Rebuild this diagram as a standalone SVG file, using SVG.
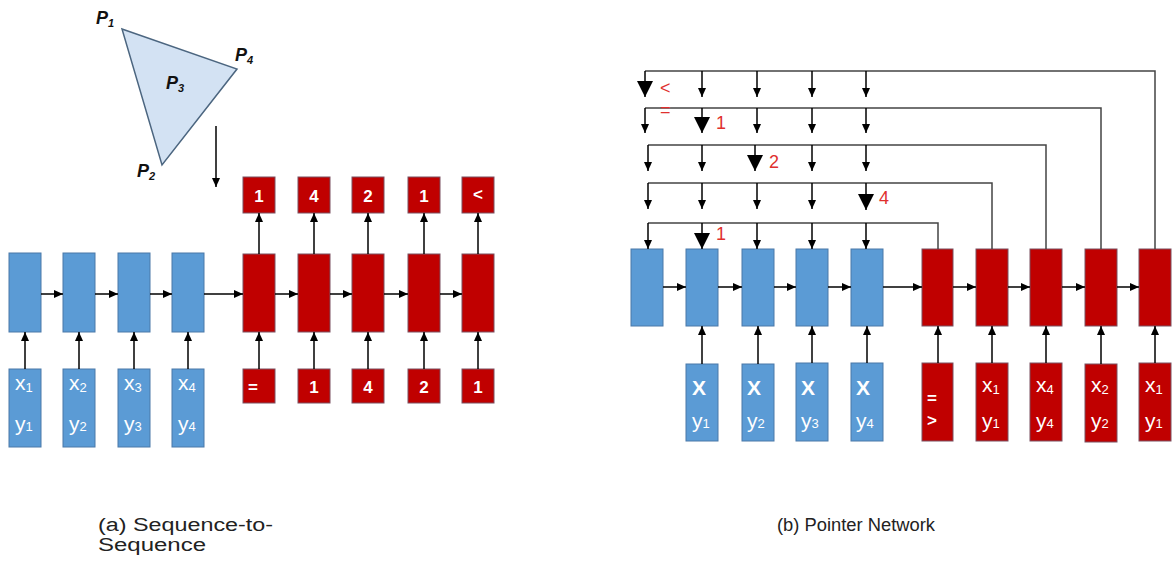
<svg xmlns="http://www.w3.org/2000/svg" width="1173" height="567" viewBox="0 0 1173 567">
<style>
.bl{fill:#5b9bd5;stroke:#4a78a8;stroke-width:1}
.rd{fill:#c00000;stroke:#7a5060;stroke-width:1}
.ln{stroke:#000;stroke-width:1.5;fill:none}
.lg{stroke:#444;stroke-width:1.5;fill:none}
.wt{font-family:"Liberation Sans",Arial,sans-serif;fill:#fff;font-size:21px}
.wb{font-family:"Liberation Sans",Arial,sans-serif;fill:#fff;font-size:17px;font-weight:bold}
.rl{font-family:"Liberation Sans",Arial,sans-serif;fill:#e0302e;font-size:18px}
.pl{font-family:"Liberation Sans",Arial,sans-serif;fill:#111;font-size:18px;font-weight:bold;font-style:italic}
.cap{font-family:"Liberation Sans",Arial,sans-serif;fill:#222;font-size:18px}
</style>
<defs>
<marker id="ah" markerUnits="userSpaceOnUse" viewBox="0 0 9 8" markerWidth="9" markerHeight="8" refX="9" refY="4" orient="auto">
<path d="M0,0 L9,4 L0,8 z" fill="#000"/>
</marker>
<marker id="big" markerUnits="userSpaceOnUse" viewBox="0 0 16 16" markerWidth="16" markerHeight="16" refX="16" refY="8" orient="auto">
<path d="M0,0 L16,8 L0,16 z" fill="#000"/>
</marker>
</defs>

<!-- Triangle -->
<g id="triangle">
<polygon points="122,29 237,69 162,165" fill="#d3e2f3" stroke="#4c6680" stroke-width="1.5"/>
<text class="pl" x="96" y="24">P<tspan font-size="11" dy="3">1</tspan></text>
<text class="pl" x="235" y="61">P<tspan font-size="11" dy="3">4</tspan></text>
<text class="pl" x="166" y="89">P<tspan font-size="11" dy="3">3</tspan></text>
<text class="pl" x="137" y="177">P<tspan font-size="11" dy="3">2</tspan></text>
</g>

<!-- Seq2Seq nodes -->
<g id="a-enc1"><rect class="bl" x="9" y="253" width="32" height="79"/></g>
<g id="a-enc2"><rect class="bl" x="63" y="253" width="32" height="79"/></g>
<g id="a-enc3"><rect class="bl" x="118" y="253" width="32" height="79"/></g>
<g id="a-enc4"><rect class="bl" x="172" y="253" width="32" height="79"/></g>
<g id="a-in1"><rect class="bl" x="9" y="369" width="32" height="78"/><text class="wt" x="15" y="390">x<tspan font-size="13" dy="2">1</tspan></text><text class="wt" x="15" y="431">y<tspan font-size="13" dy="0">1</tspan></text></g>
<g id="a-in2"><rect class="bl" x="63" y="369" width="32" height="78"/><text class="wt" x="69" y="390">x<tspan font-size="13" dy="2">2</tspan></text><text class="wt" x="69" y="431">y<tspan font-size="13" dy="0">2</tspan></text></g>
<g id="a-in3"><rect class="bl" x="118" y="369" width="32" height="78"/><text class="wt" x="124" y="390">x<tspan font-size="13" dy="2">3</tspan></text><text class="wt" x="124" y="431">y<tspan font-size="13" dy="0">3</tspan></text></g>
<g id="a-in4"><rect class="bl" x="172" y="369" width="32" height="78"/><text class="wt" x="178" y="390">x<tspan font-size="13" dy="2">4</tspan></text><text class="wt" x="178" y="431">y<tspan font-size="13" dy="0">4</tspan></text></g>

<g id="a-dec1"><rect class="rd" x="243" y="254" width="32" height="78"/></g>
<g id="a-dec2"><rect class="rd" x="298" y="254" width="32" height="78"/></g>
<g id="a-dec3"><rect class="rd" x="352" y="254" width="32" height="78"/></g>
<g id="a-dec4"><rect class="rd" x="408" y="254" width="32" height="78"/></g>
<g id="a-dec5"><rect class="rd" x="462" y="254" width="32" height="78"/></g>

<g id="a-out1"><rect class="rd" x="243" y="177" width="32" height="36"/><text class="wb" x="259" y="202" text-anchor="middle">1</text></g>
<g id="a-out2"><rect class="rd" x="298" y="177" width="32" height="36"/><text class="wb" x="314" y="202" text-anchor="middle">4</text></g>
<g id="a-out3"><rect class="rd" x="352" y="177" width="32" height="36"/><text class="wb" x="368" y="202" text-anchor="middle">2</text></g>
<g id="a-out4"><rect class="rd" x="408" y="177" width="32" height="36"/><text class="wb" x="424" y="202" text-anchor="middle">1</text></g>
<g id="a-out5"><rect class="rd" x="462" y="177" width="32" height="36"/><text class="wb" x="473" y="200">&lt;</text></g>

<g id="a-din1"><rect class="rd" x="243" y="369" width="32" height="34"/><text class="wb" x="248" y="393">=</text></g>
<g id="a-din2"><rect class="rd" x="298" y="369" width="32" height="34"/><text class="wb" x="314" y="393" text-anchor="middle">1</text></g>
<g id="a-din3"><rect class="rd" x="352" y="369" width="32" height="34"/><text class="wb" x="368" y="393" text-anchor="middle">4</text></g>
<g id="a-din4"><rect class="rd" x="408" y="369" width="32" height="34"/><text class="wb" x="424" y="393" text-anchor="middle">2</text></g>
<g id="a-din5"><rect class="rd" x="462" y="369" width="32" height="34"/><text class="wb" x="478" y="393" text-anchor="middle">1</text></g>

<!-- Pointer network nodes -->
<g id="b-enc0"><rect class="bl" x="631" y="249" width="32" height="77"/></g>
<g id="b-enc1"><rect class="bl" x="686" y="249" width="32" height="77"/></g>
<g id="b-enc2"><rect class="bl" x="742" y="249" width="32" height="77"/></g>
<g id="b-enc3"><rect class="bl" x="796" y="249" width="32" height="77"/></g>
<g id="b-enc4"><rect class="bl" x="851" y="249" width="32" height="77"/></g>
<g id="b-in1"><rect class="bl" x="686" y="364" width="32" height="77"/><text class="wt" x="692" y="395" font-size="17" font-weight="bold">X</text><text class="wt" x="692" y="428">y<tspan font-size="13" dy="0">1</tspan></text></g>
<g id="b-in2"><rect class="bl" x="742" y="364" width="32" height="77"/><text class="wt" x="747" y="395" font-size="17" font-weight="bold">X</text><text class="wt" x="747" y="428">y<tspan font-size="13" dy="0">2</tspan></text></g>
<g id="b-in3"><rect class="bl" x="796" y="363" width="32" height="78"/><text class="wt" x="801" y="395" font-size="17" font-weight="bold">X</text><text class="wt" x="801" y="428">y<tspan font-size="13" dy="0">3</tspan></text></g>
<g id="b-in4"><rect class="bl" x="851" y="363" width="32" height="78"/><text class="wt" x="856" y="395" font-size="17" font-weight="bold">X</text><text class="wt" x="856" y="428">y<tspan font-size="13" dy="0">4</tspan></text></g>

<g id="b-dec0"><rect class="rd" x="922" y="249" width="31" height="77"/></g>
<g id="b-dec1"><rect class="rd" x="976" y="249" width="32" height="77"/></g>
<g id="b-dec2"><rect class="rd" x="1030" y="249" width="32" height="77"/></g>
<g id="b-dec3"><rect class="rd" x="1085" y="249" width="32" height="77"/></g>
<g id="b-dec4"><rect class="rd" x="1139" y="249" width="32" height="77"/></g>
<g id="b-din0"><rect class="rd" x="922" y="363" width="31" height="78"/><text class="wb" x="927" y="404">=</text><text class="wb" x="927" y="426">&gt;</text></g>
<g id="b-din1"><rect class="rd" x="976" y="363" width="32" height="78"/><text class="wt" x="982" y="392">x<tspan font-size="13" dy="2">1</tspan></text><text class="wt" x="982" y="428">y<tspan font-size="13" dy="0">1</tspan></text></g>
<g id="b-din2"><rect class="rd" x="1030" y="363" width="32" height="78"/><text class="wt" x="1036" y="392">x<tspan font-size="13" dy="2">4</tspan></text><text class="wt" x="1036" y="428">y<tspan font-size="13" dy="0">4</tspan></text></g>
<g id="b-din3"><rect class="rd" x="1085" y="364" width="32" height="78"/><text class="wt" x="1091" y="392">x<tspan font-size="13" dy="2">2</tspan></text><text class="wt" x="1091" y="428">y<tspan font-size="13" dy="0">2</tspan></text></g>
<g id="b-din4"><rect class="rd" x="1139" y="363" width="32" height="78"/><text class="wt" x="1145" y="392">x<tspan font-size="13" dy="2">1</tspan></text><text class="wt" x="1145" y="428">y<tspan font-size="13" dy="0">1</tspan></text></g>

<!-- Connectors -->
<g id="connectors">
<line class="ln" x1="216" y1="126" x2="216" y2="187" marker-end="url(#ah)"/>
<line class="ln" x1="41" y1="294" x2="63" y2="294" marker-end="url(#ah)"/>
<line class="ln" x1="95" y1="294" x2="118" y2="294" marker-end="url(#ah)"/>
<line class="ln" x1="150" y1="294" x2="172" y2="294" marker-end="url(#ah)"/>
<line class="ln" x1="204" y1="294" x2="243" y2="294" marker-end="url(#ah)"/>
<line class="ln" x1="275" y1="294" x2="298" y2="294" marker-end="url(#ah)"/>
<line class="ln" x1="330" y1="294" x2="352" y2="294" marker-end="url(#ah)"/>
<line class="ln" x1="384" y1="294" x2="408" y2="294" marker-end="url(#ah)"/>
<line class="ln" x1="440" y1="294" x2="462" y2="294" marker-end="url(#ah)"/>
<line class="ln" x1="25" y1="369" x2="25" y2="332" marker-end="url(#ah)"/>
<line class="ln" x1="79" y1="369" x2="79" y2="332" marker-end="url(#ah)"/>
<line class="ln" x1="134" y1="369" x2="134" y2="332" marker-end="url(#ah)"/>
<line class="ln" x1="188" y1="369" x2="188" y2="332" marker-end="url(#ah)"/>
<line class="ln" x1="259" y1="369" x2="259" y2="332" marker-end="url(#ah)"/>
<line class="ln" x1="314" y1="369" x2="314" y2="332" marker-end="url(#ah)"/>
<line class="ln" x1="368" y1="369" x2="368" y2="332" marker-end="url(#ah)"/>
<line class="ln" x1="424" y1="369" x2="424" y2="332" marker-end="url(#ah)"/>
<line class="ln" x1="478" y1="369" x2="478" y2="332" marker-end="url(#ah)"/>
<line class="ln" x1="259" y1="254" x2="259" y2="213" marker-end="url(#ah)"/>
<line class="ln" x1="314" y1="254" x2="314" y2="213" marker-end="url(#ah)"/>
<line class="ln" x1="368" y1="254" x2="368" y2="213" marker-end="url(#ah)"/>
<line class="ln" x1="424" y1="254" x2="424" y2="213" marker-end="url(#ah)"/>
<line class="ln" x1="478" y1="254" x2="478" y2="213" marker-end="url(#ah)"/>

<line class="ln" x1="663" y1="287" x2="686" y2="287" marker-end="url(#ah)"/>
<line class="ln" x1="718" y1="287" x2="742" y2="287" marker-end="url(#ah)"/>
<line class="ln" x1="774" y1="287" x2="796" y2="287" marker-end="url(#ah)"/>
<line class="ln" x1="828" y1="287" x2="851" y2="287" marker-end="url(#ah)"/>
<line class="ln" x1="883" y1="287" x2="922" y2="287" marker-end="url(#ah)"/>
<line class="ln" x1="953" y1="287" x2="976" y2="287" marker-end="url(#ah)"/>
<line class="ln" x1="1008" y1="287" x2="1030" y2="287" marker-end="url(#ah)"/>
<line class="ln" x1="1062" y1="287" x2="1085" y2="287" marker-end="url(#ah)"/>
<line class="ln" x1="1117" y1="287" x2="1139" y2="287" marker-end="url(#ah)"/>
<line class="ln" x1="702" y1="364" x2="702" y2="326" marker-end="url(#ah)"/>
<line class="ln" x1="758" y1="364" x2="758" y2="326" marker-end="url(#ah)"/>
<line class="ln" x1="812" y1="363" x2="812" y2="326" marker-end="url(#ah)"/>
<line class="ln" x1="867" y1="363" x2="867" y2="326" marker-end="url(#ah)"/>
<line class="ln" x1="938" y1="363" x2="938" y2="326" marker-end="url(#ah)"/>
<line class="ln" x1="992" y1="363" x2="992" y2="326" marker-end="url(#ah)"/>
<line class="ln" x1="1046" y1="363" x2="1046" y2="326" marker-end="url(#ah)"/>
<line class="ln" x1="1101" y1="364" x2="1101" y2="326" marker-end="url(#ah)"/>
<line class="ln" x1="1155" y1="363" x2="1155" y2="326" marker-end="url(#ah)"/>

<path class="lg" d="M938,249 V223 H648"/>
<path class="lg" d="M992,249 V183 H648"/>
<path class="lg" d="M1046,249 V145 H648"/>
<path class="lg" d="M1101,249 V108 H645"/>
<path class="lg" d="M1155,249 V71 H645"/>

<line class="ln" x1="645" y1="71" x2="645" y2="97" marker-end="url(#big)"/>
<line class="ln" x1="702" y1="71" x2="702" y2="97" marker-end="url(#ah)"/>
<line class="ln" x1="757" y1="71" x2="757" y2="97" marker-end="url(#ah)"/>
<line class="ln" x1="812" y1="71" x2="812" y2="97" marker-end="url(#ah)"/>
<line class="ln" x1="866" y1="71" x2="866" y2="97" marker-end="url(#ah)"/>
<line class="ln" x1="645" y1="108" x2="645" y2="133" marker-end="url(#ah)"/>
<line class="ln" x1="702" y1="108" x2="702" y2="133" marker-end="url(#big)"/>
<line class="ln" x1="757" y1="108" x2="757" y2="133" marker-end="url(#ah)"/>
<line class="ln" x1="812" y1="108" x2="812" y2="133" marker-end="url(#ah)"/>
<line class="ln" x1="866" y1="108" x2="866" y2="133" marker-end="url(#ah)"/>
<line class="ln" x1="648" y1="145" x2="648" y2="171" marker-end="url(#ah)"/>
<line class="ln" x1="702" y1="145" x2="702" y2="171" marker-end="url(#ah)"/>
<line class="ln" x1="755" y1="145" x2="755" y2="171" marker-end="url(#big)"/>
<line class="ln" x1="812" y1="145" x2="812" y2="171" marker-end="url(#ah)"/>
<line class="ln" x1="866" y1="145" x2="866" y2="171" marker-end="url(#ah)"/>
<line class="ln" x1="648" y1="183" x2="648" y2="209" marker-end="url(#ah)"/>
<line class="ln" x1="702" y1="183" x2="702" y2="209" marker-end="url(#ah)"/>
<line class="ln" x1="757" y1="183" x2="757" y2="209" marker-end="url(#ah)"/>
<line class="ln" x1="812" y1="183" x2="812" y2="209" marker-end="url(#ah)"/>
<line class="ln" x1="866" y1="183" x2="866" y2="210" marker-end="url(#big)"/>
<line class="ln" x1="648" y1="223" x2="648" y2="249" marker-end="url(#ah)"/>
<line class="ln" x1="702" y1="223" x2="702" y2="249" marker-end="url(#big)"/>
<line class="ln" x1="757" y1="223" x2="757" y2="249" marker-end="url(#ah)"/>
<line class="ln" x1="812" y1="223" x2="812" y2="249" marker-end="url(#ah)"/>
<line class="ln" x1="866" y1="223" x2="866" y2="249" marker-end="url(#ah)"/>
</g>

<g id="pointer-labels">
<text class="rl" x="660" y="94">&lt;</text>
<text class="rl" x="660" y="116">=</text>
<text class="rl" x="716" y="129">1</text>
<text class="rl" x="769" y="168">2</text>
<text class="rl" x="879" y="204">4</text>
<text class="rl" x="716" y="240">1</text>
</g>

<g id="captions">
<text class="cap" x="98" y="531" textLength="175" lengthAdjust="spacingAndGlyphs">(a) Sequence-to-</text>
<text class="cap" x="98" y="551" textLength="108" lengthAdjust="spacingAndGlyphs">Sequence</text>
<text class="cap" x="777" y="531" textLength="158" lengthAdjust="spacingAndGlyphs">(b) Pointer Network</text>
</g>
</svg>
